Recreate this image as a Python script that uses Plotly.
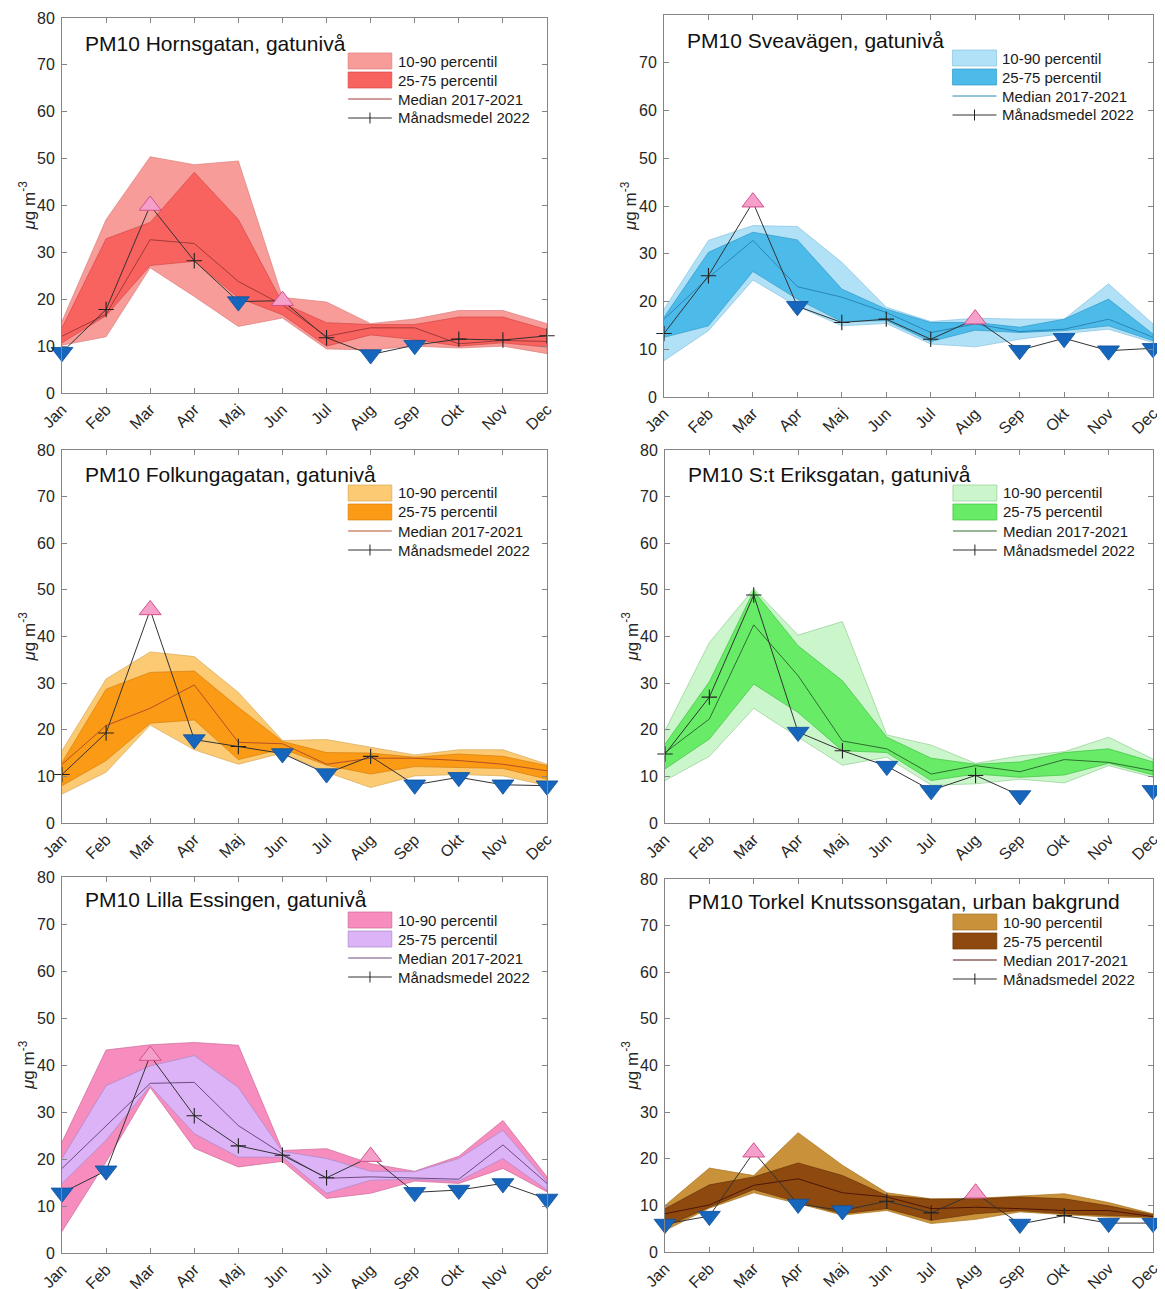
import plotly.graph_objects as go

# The page body has an 8px default margin, so the figure is shifted to compensate.
OFF = 8
W, H = 1165 - OFF, 1289 - OFF
months = ["Jan", "Feb", "Mar", "Apr", "Maj", "Jun", "Jul", "Aug", "Sep", "Okt", "Nov", "Dec"]
xnum = list(range(1, 13))
legend_labels = ["10-90 percentil", "25-75 percentil", "Median 2017-2021", "Månadsmedel 2022"]

# ---- Hornsgatan ----
horns_title = "PM10 Hornsgatan, gatunivå"
horns_p10 = [10.2, 12.0, 26.7, 20.6, 14.2, 16.0, 9.4, 9.2, 10.0, 9.6, 10.0, 8.4]
horns_p25 = [10.7, 16.5, 27.2, 28.1, 20.3, 16.7, 10.0, 12.4, 11.4, 10.0, 10.7, 9.8]
horns_med = [12.1, 16.8, 32.7, 31.9, 23.8, 18.8, 12.1, 13.9, 13.9, 10.5, 11.2, 11.0]
horns_p75 = [13.9, 32.9, 36.4, 47.1, 37.0, 19.2, 15.0, 14.6, 14.6, 16.2, 16.2, 13.5]
horns_p90 = [15.3, 37.0, 50.4, 48.7, 49.5, 20.4, 19.4, 14.8, 15.8, 17.6, 17.6, 14.8]
horns_2022 = [8.7, 17.8, 40.0, 28.2, 19.5, 19.7, 11.8, 8.2, 10.2, 11.5, 11.3, 12.2]
horns_mk = ["v", "+", "^", "+", "v", "^", "+", "v", "v", "+", "+", "+"]

# ---- Sveavägen ----
svea_title = "PM10 Sveavägen, gatunivå"
svea_p10 = [7.6, 13.9, 24.5, 19.0, 14.9, 15.4, 11.1, 10.5, 12.1, 13.3, 14.2, 11.4]
svea_p25 = [12.5, 14.9, 26.3, 20.5, 15.8, 16.0, 11.6, 14.0, 13.5, 13.9, 14.9, 11.8]
svea_med = [16.3, 25.0, 32.8, 23.1, 20.9, 17.7, 13.5, 15.3, 13.7, 14.2, 16.3, 12.5]
svea_p75 = [16.7, 30.3, 34.5, 32.9, 22.6, 18.4, 15.6, 15.6, 14.6, 16.3, 20.5, 13.2]
svea_p90 = [18.4, 32.8, 35.9, 35.7, 28.2, 18.8, 15.8, 16.5, 16.3, 16.3, 23.7, 15.3]
svea_2022 = [13.3, 25.4, 40.8, 19.0, 15.6, 16.3, 12.1, 16.3, 9.8, 12.3, 9.7, 10.2]
svea_mk = ["+", "+", "^", "v", "+", "+", "+", "^", "v", "v", "v", "v"]

# ---- Folkungagatan ----
folk_title = "PM10 Folkungagatan, gatunivå"
folk_p10 = [6.2, 10.9, 21.0, 15.7, 12.6, 15.0, 10.9, 7.6, 10.1, 10.4, 10.1, 8.0]
folk_p25 = [8.0, 13.4, 21.4, 22.1, 13.6, 15.9, 12.4, 10.5, 12.1, 11.9, 11.7, 9.4]
folk_med = [12.6, 20.9, 24.6, 29.6, 17.3, 17.0, 12.6, 13.9, 13.9, 13.4, 12.6, 11.2]
folk_p75 = [13.0, 28.7, 32.3, 32.6, 24.8, 17.5, 15.1, 15.0, 14.1, 14.8, 14.3, 12.3]
folk_p90 = [15.5, 30.9, 36.7, 35.7, 28.0, 17.7, 17.9, 16.2, 14.6, 15.7, 15.7, 12.6]
folk_2022 = [10.4, 19.3, 45.7, 17.9, 16.4, 14.9, 10.6, 14.3, 8.2, 9.8, 8.2, 8.0]
folk_mk = ["+", "+", "^", "v", "+", "v", "v", "+", "v", "v", "v", "v"]

# ---- S:t Eriksgatan ----
erik_title = "PM10 S:t Eriksgatan, gatunivå"
erik_p10 = [9.1, 14.3, 24.6, 18.4, 12.4, 14.1, 8.1, 8.4, 9.4, 8.6, 12.3, 9.8]
erik_p25 = [11.6, 18.0, 29.8, 23.7, 15.5, 15.1, 9.1, 10.5, 9.8, 10.3, 12.8, 10.3]
erik_med = [15.1, 22.3, 42.5, 31.6, 17.6, 15.9, 10.5, 12.3, 11.0, 13.6, 13.0, 11.2]
erik_p75 = [16.9, 30.3, 49.8, 38.0, 30.5, 18.4, 13.9, 12.6, 13.1, 15.1, 15.9, 13.1]
erik_p90 = [19.8, 38.7, 50.2, 40.3, 43.2, 18.9, 16.7, 12.8, 14.4, 15.3, 18.4, 13.7]
erik_2022 = [14.8, 27.0, 48.9, 19.5, 15.5, 12.2, 7.0, 10.2, 5.9, None, None, 7.0]
erik_mk = ["+", "+", "+", "v", "+", "v", "v", "+", "v", "", "", "v"]

# ---- Lilla Essingen ----
ess_title = "PM10 Lilla Essingen, gatunivå"
ess_p10 = [4.6, 19.4, 35.2, 22.3, 18.3, 19.5, 11.6, 12.7, 15.3, 14.8, 18.0, 13.0]
ess_p25 = [14.8, 24.0, 35.6, 25.4, 20.4, 20.4, 12.7, 15.5, 15.7, 15.3, 20.1, 13.4]
ess_med = [18.0, 27.1, 36.1, 36.3, 27.1, 21.1, 15.9, 16.2, 15.9, 15.7, 23.0, 14.8]
ess_p75 = [20.1, 35.6, 39.8, 42.0, 35.2, 21.6, 20.1, 17.4, 17.3, 20.1, 26.1, 15.2]
ess_p90 = [23.6, 43.2, 44.3, 44.8, 44.2, 21.8, 22.2, 19.0, 17.4, 20.6, 28.2, 16.2]
ess_2022 = [12.8, 17.5, 42.0, 29.2, 22.8, 20.8, 16.0, 20.5, 12.9, 13.4, 14.8, 11.5]
ess_mk = ["v", "v", "^", "+", "+", "+", "+", "^", "v", "v", "v", "v"]

# ---- Torkel Knutssonsgatan ----
tork_title = "PM10 Torkel Knutssonsgatan, urban bakgrund"
tork_p10 = [4.6, 9.4, 12.7, 10.4, 7.9, 8.9, 6.1, 7.0, 8.6, 8.0, 7.5, 7.3]
tork_p25 = [5.4, 9.6, 13.4, 10.7, 8.2, 9.3, 6.8, 8.2, 8.9, 8.2, 7.9, 7.5]
tork_med = [8.2, 10.1, 14.3, 15.7, 12.7, 11.8, 9.3, 9.6, 9.3, 8.9, 8.9, 7.6]
tork_p75 = [9.3, 14.4, 16.1, 19.1, 16.4, 12.1, 11.3, 11.4, 11.8, 11.4, 9.9, 8.0]
tork_p90 = [10.0, 18.0, 16.4, 25.6, 18.6, 12.7, 11.4, 11.5, 12.0, 12.5, 10.6, 8.2]
tork_2022 = [6.0, 7.7, 21.4, 10.3, 8.9, 10.9, 8.4, 12.6, 6.0, 7.8, 6.2, 6.2]
tork_mk = ["v", "v", "^", "v", "v", "+", "+", "^", "v", "+", "v", "v"]

panels = [
    dict(title=horns_title, p10=horns_p10, p25=horns_p25, med=horns_med, p75=horns_p75, p90=horns_p90,
         y22=horns_2022, mk=horns_mk, light="#f79c99", dark="#f8625f", le="#dd807d", de="#d24a48",
         mc="#a33a3a", box=(62, 18, 547, 393), ty=25),
    dict(title=svea_title, p10=svea_p10, p25=svea_p25, med=svea_med, p75=svea_p75, p90=svea_p90,
         y22=svea_2022, mk=svea_mk, light="#b0e1f7", dark="#4dbbe9", le="#86c3df", de="#3199c8",
         mc="#2a86b8", box=(664, 15, 1153, 397), ty=25),
    dict(title=folk_title, p10=folk_p10, p25=folk_p25, med=folk_med, p75=folk_p75, p90=folk_p90,
         y22=folk_2022, mk=folk_mk, light="#fbca72", dark="#fb9a14", le="#d9a95a", de="#d58010",
         mc="#b4502a", box=(62, 450, 547, 823), ty=25),
    dict(title=erik_title, p10=erik_p10, p25=erik_p25, med=erik_med, p75=erik_p75, p90=erik_p90,
         y22=erik_2022, mk=erik_mk, light="#cbf6cb", dark="#68ec68", le="#92cf92", de="#40c040",
         mc="#2e6e30", box=(665, 450, 1153, 823), ty=25),
    dict(title=ess_title, p10=ess_p10, p25=ess_p25, med=ess_med, p75=ess_p75, p90=ess_p90,
         y22=ess_2022, mk=ess_mk, light="#f78cbe", dark="#ddb3f7", le="#cc6898", de="#a888c8",
         mc="#6e4a80", box=(62, 877, 547, 1253), ty=22),
    dict(title=tork_title, p10=tork_p10, p25=tork_p25, med=tork_med, p75=tork_p75, p90=tork_p90,
         y22=tork_2022, mk=tork_mk, light="#c9923a", dark="#8e4a0e", le="#a87424", de="#6a3408",
         mc="#4e1408", box=(665, 879, 1153, 1252), ty=22),
]

FONT = "Liberation Sans, Arial, sans-serif"
AXC = "#858585"
TXT = "#262626"
BLUE = "#1766bd"
PINK = "#f5a0cb"
PINKEDGE = "#d4508a"

fig = go.Figure()
shapes, annots = [], []

for i, p in enumerate(panels, start=1):
    xa = "x" if i == 1 else f"x{i}"
    ya = "y" if i == 1 else f"y{i}"
    l, t, r, b = [v - OFF for v in p["box"]]
    pw, ph = r - l, b - t

    # 10-90 band
    fig.add_trace(go.Scatter(x=xnum + xnum[::-1], y=p["p90"] + p["p10"][::-1], fill="toself",
                             fillcolor=p["light"], line=dict(color=p["le"], width=0.7),
                             mode="lines", showlegend=False, xaxis=xa, yaxis=ya, hoverinfo="skip"))
    # 25-75 band
    fig.add_trace(go.Scatter(x=xnum + xnum[::-1], y=p["p75"] + p["p25"][::-1], fill="toself",
                             fillcolor=p["dark"], line=dict(color=p["de"], width=0.7),
                             mode="lines", showlegend=False, xaxis=xa, yaxis=ya, hoverinfo="skip"))
    # median
    fig.add_trace(go.Scatter(x=xnum, y=p["med"], mode="lines", line=dict(color=p["mc"], width=1),
                             showlegend=False, xaxis=xa, yaxis=ya))
    # 2022 line
    fig.add_trace(go.Scatter(x=xnum, y=p["y22"], mode="lines", line=dict(color="#333333", width=1),
                             showlegend=False, xaxis=xa, yaxis=ya, cliponaxis=False))
    # plus markers
    yp = [v if m == "+" else None for v, m in zip(p["y22"], p["mk"])]
    fig.add_trace(go.Scatter(x=xnum, y=yp, mode="markers",
                             marker=dict(symbol="cross-thin", size=11, line=dict(color="#222222", width=1.1)),
                             showlegend=False, xaxis=xa, yaxis=ya, cliponaxis=False))
    # up triangles
    yu = [v if m == "^" else None for v, m in zip(p["y22"], p["mk"])]
    fig.add_trace(go.Scatter(x=xnum, y=yu, mode="markers",
                             marker=dict(symbol="triangle-up", size=19, color=PINK,
                                         line=dict(color=PINKEDGE, width=1)),
                             showlegend=False, xaxis=xa, yaxis=ya, cliponaxis=False))
    # down triangles
    yd = [v if m == "v" else None for v, m in zip(p["y22"], p["mk"])]
    fig.add_trace(go.Scatter(x=xnum, y=yd, mode="markers",
                             marker=dict(symbol="triangle-down", size=19, color=BLUE,
                                         line=dict(color="#0e4f98", width=0.8)),
                             showlegend=False, xaxis=xa, yaxis=ya, cliponaxis=False))

    axis_common = dict(showline=True, linecolor=AXC, linewidth=1, mirror="ticks", ticks="inside",
                       ticklen=5, tickcolor=AXC, showgrid=False, zeroline=False, automargin=False,
                       tickfont=dict(family=FONT, size=16, color=TXT))
    fig.update_layout({
        ("xaxis" if i == 1 else f"xaxis{i}"): dict(
            domain=[l / W, r / W], range=[1, 12], tickvals=xnum, ticktext=months, tickangle=-45,
            anchor=ya, **axis_common),
        ("yaxis" if i == 1 else f"yaxis{i}"): dict(
            domain=[1 - b / H, 1 - t / H], range=[0, 80], dtick=10, anchor=xa,
            ticklabelstandoff=3, **axis_common),
    })

    xd, yd_ = f"{xa} domain", f"{ya} domain"
    # panel title
    annots.append(dict(xref=xd, yref=yd_, x=21 / pw, y=1 - p["ty"] / ph, xanchor="left", yanchor="middle",
                       text=p["title"], showarrow=False,
                       font=dict(family=FONT, size=21, color="#111111")))
    # y-axis label
    annots.append(dict(xref=xd, yref=yd_, x=-35 / pw, y=0.5, xanchor="center", yanchor="middle",
                       text="<i>μ</i>g m<sup>-3</sup>", textangle=-90, showarrow=False,
                       font=dict(family=FONT, size=17, color=TXT)))

    # legend (drawn)
    lx0, lx1, tx = 0.590 * pw, 0.680 * pw, 0.688 * pw
    rows = [43, 62, 81, 100]
    fy = lambda py: 1 - py / ph
    shapes.append(dict(type="rect", xref=xd, yref=yd_, x0=lx0 / pw, x1=lx1 / pw,
                       y0=fy(rows[0] + 8), y1=fy(rows[0] - 8), fillcolor=p["light"],
                       line=dict(color=p["le"], width=0.7)))
    shapes.append(dict(type="rect", xref=xd, yref=yd_, x0=lx0 / pw, x1=lx1 / pw,
                       y0=fy(rows[1] + 8), y1=fy(rows[1] - 8), fillcolor=p["dark"],
                       line=dict(color=p["de"], width=0.7)))
    shapes.append(dict(type="line", xref=xd, yref=yd_, x0=lx0 / pw, x1=lx1 / pw,
                       y0=fy(rows[2]), y1=fy(rows[2]), line=dict(color=p["mc"], width=1)))
    shapes.append(dict(type="line", xref=xd, yref=yd_, x0=lx0 / pw, x1=lx1 / pw,
                       y0=fy(rows[3]), y1=fy(rows[3]), line=dict(color="#333333", width=1)))
    xm = (lx0 + lx1) / 2 / pw
    shapes.append(dict(type="line", xref=xd, yref=yd_, x0=xm, x1=xm,
                       y0=fy(rows[3] + 5.5), y1=fy(rows[3] - 5.5), line=dict(color="#222222", width=1)))
    for lab, ry in zip(legend_labels, rows):
        annots.append(dict(xref=xd, yref=yd_, x=tx / pw, y=fy(ry), xanchor="left", yanchor="middle",
                           text=lab, showarrow=False, font=dict(family=FONT, size=15, color="#1a1a1a")))

fig.update_layout(width=W, height=H, autosize=False, margin=dict(l=0, r=0, t=0, b=0),
                  paper_bgcolor="white", plot_bgcolor="white", showlegend=False,
                  shapes=shapes, annotations=annots, font=dict(family=FONT))

fig.write_html("out.html")
